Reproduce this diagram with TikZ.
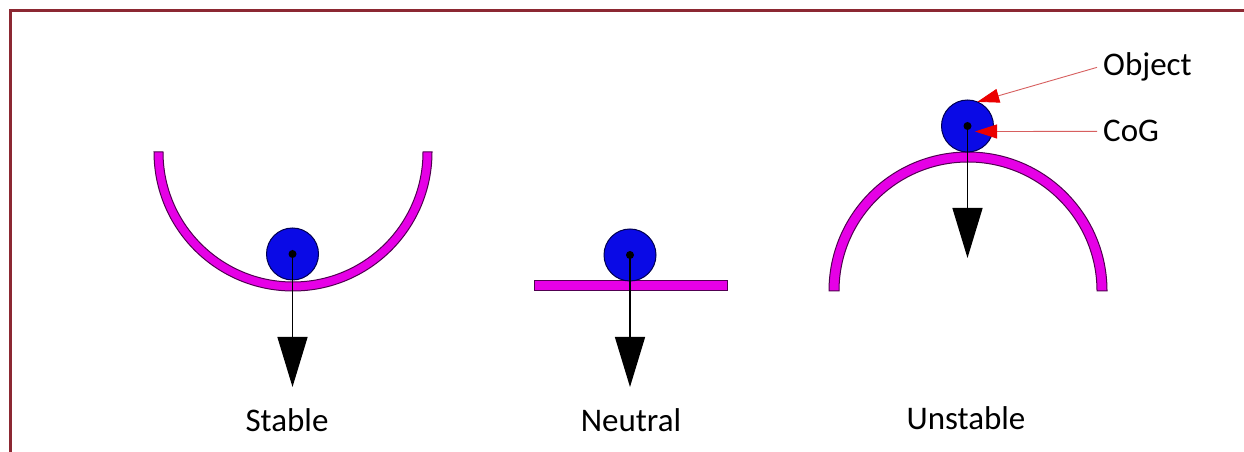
\documentclass[tikz,border=0pt]{standalone}
\usepackage{fontspec}
\setmainfont{Carlito}
\usetikzlibrary{arrows.meta}
\definecolor{framecol}{RGB}{140,40,50}
\definecolor{surf}{RGB}{230,0,230}
\definecolor{surfline}{RGB}{80,0,80}
\definecolor{ballfill}{RGB}{10,10,230}
\definecolor{ballline}{RGB}{0,0,80}
\definecolor{redline}{RGB}{215,95,95}
\definecolor{redhead}{RGB}{235,0,0}
\begin{document}
\begin{tikzpicture}[x=1pt,y=1pt,
  surface/.style={fill=surf,draw=surfline,line width=1pt},
  ball/.style={circle,fill=ballfill,draw=ballline,line width=1pt,minimum size=52pt,inner sep=0pt,outer sep=0pt},
  cog/.style={circle,fill=black,minimum size=8pt,inner sep=0pt},
  grav/.style={line width=1.4pt,-{Triangle[length=50pt,width=30pt]}},
  label/.style={font=\fontsize{33}{39}\selectfont,anchor=base},
  callout/.style={font=\fontsize{33}{39}\selectfont,anchor=base west,inner xsep=6pt},
  pointer/.style={draw=redline,line width=0.9pt,-{Triangle[length=22pt,width=14pt,color=redhead]}}]
\useasboundingbox (0,0) rectangle (1244,452);
\fill[white] (0,0) rectangle (1244,452);
% frame
\draw[framecol,line width=3pt] (10,-10) -- (10,441) -- (1260,441);
% stable bowl
\draw[surface] (154,300) arc[start angle=180,end angle=360,radius=139] -- (423,300) arc[start angle=0,end angle=-180,radius=130] -- cycle;
% neutral bar
\draw[surface] (534,161) rectangle (727,171);
% unstable arch
\draw[surface] (829,161) arc[start angle=180,end angle=0,radius=139] -- (1097,161) arc[start angle=0,end angle=180,radius=129] -- cycle;
% balls
\node[ball] (b1) at (292.5,198) {};
\node[ball] (b2) at (630,197) {};
\node[ball] (b3) at (967.5,326) {};
\node[cog] (c1) at (b1.center) {};
\node[cog] (c2) at (b2.center) {};
\node[cog] (c3) at (b3.center) {};
% gravity arrows
\coordinate (t1) at (292.5,65);
\coordinate (t2) at (630,65);
\coordinate (t3) at (967.5,194);
\draw[grav] (c1.center) -- (t1);
\draw[grav] (c2.center) -- (t2);
\draw[grav] (c3.center) -- (t3);
% labels
\node[label] (l1) at (287,20) {Stable};
\node[label] (l2) at (631,20) {Neutral};
\node[label] (l3) at (966,22) {Unstable};
\node[callout] (obj) at (1097,376) {Object};
\node[callout] (cg) at (1097,310) {CoG};
\coordinate (cogtip) at (975,320.5);
\draw[pointer] (obj.west) -- (b3.68);
\draw[pointer] (cg.west) -- (cogtip);
\end{tikzpicture}
\end{document}
